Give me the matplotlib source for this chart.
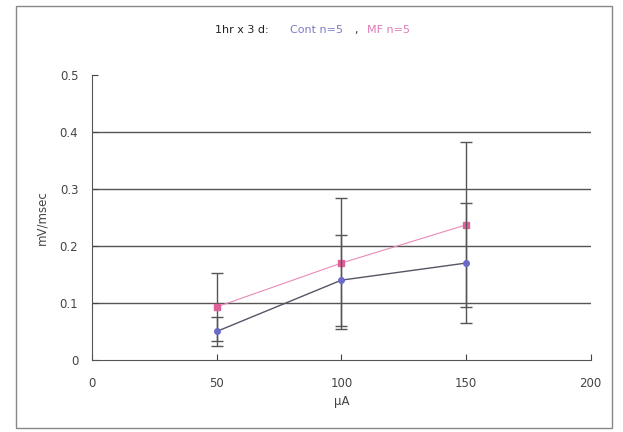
import numpy as np
import matplotlib
matplotlib.use("Agg")
import matplotlib.pyplot as plt
from matplotlib.patches import Rectangle

# data
current = [50, 100, 150]
cont = [0.05, 0.14, 0.17]
cont_err = [0.025, 0.08, 0.105]
mf = [0.093, 0.17, 0.237]
mf_err = [0.06, 0.115, 0.145]

txt = "#444444"
fig = plt.figure(figsize=(6.23, 4.32), dpi=100)
fig.patch.set_facecolor("white")
ax = fig.add_axes([0.148, 0.167, 0.80, 0.659])

ax.errorbar(current, mf, yerr=mf_err, color="#e88ab8", lw=0.8, marker="s", ms=4,
            mfc="#e0609a", mec="#e0609a", ecolor="#555555", elinewidth=1.0,
            capsize=4.5, capthick=1.0, zorder=3)
ax.errorbar(current, cont, yerr=cont_err, color="#555566", lw=1.0, marker="o", ms=4,
            mfc="#6a6ac8", mec="#6a6ac8", ecolor="#555555", elinewidth=1.0,
            capsize=4.5, capthick=1.0, zorder=4)

ax.set_xlim(0, 200)
ax.set_ylim(0, 0.5)
ax.set_xticks([0, 50, 100, 150, 200])
ax.set_yticks([0, 0.1, 0.2, 0.3, 0.4, 0.5])
ax.set_yticklabels(["0", "0.1", "0.2", "0.3", "0.4", "0.5"])
for y in [0.1, 0.2, 0.3, 0.4]:
    ax.axhline(y, color="#555555", lw=1.0, zorder=1)
ax.tick_params(direction="in", colors=txt, labelsize=8.5, length=4, pad=10)
ax.tick_params(axis="x", pad=12)
for s in ["top", "right"]:
    ax.spines[s].set_visible(False)
for s in ["left", "bottom"]:
    ax.spines[s].set_color("#555555")

ax.set_xlabel("\u03bcA", color=txt, fontsize=8.5, labelpad=4)
ax.set_ylabel("mV/msec", color=txt, fontsize=8.5, labelpad=8)

# title in pieces
fig.text(0.345, 0.93, "1hr x 3 d:", color="#222222", fontsize=8, ha="left", va="center")
fig.text(0.465, 0.93, "Cont n=5", color="#7c7cc8", fontsize=8, ha="left", va="center")
fig.text(0.568, 0.93, ",", color="#333333", fontsize=8, ha="left", va="center")
fig.text(0.589, 0.93, "MF n=5", color="#e07ab5", fontsize=8, ha="left", va="center")

# chart border
fig.patches.append(Rectangle((0.026, 0.01), 0.956, 0.976, transform=fig.transFigure,
                             fill=False, ec="#888888", lw=1.0))

plt.savefig("out.png", dpi=100)
plt.close()
